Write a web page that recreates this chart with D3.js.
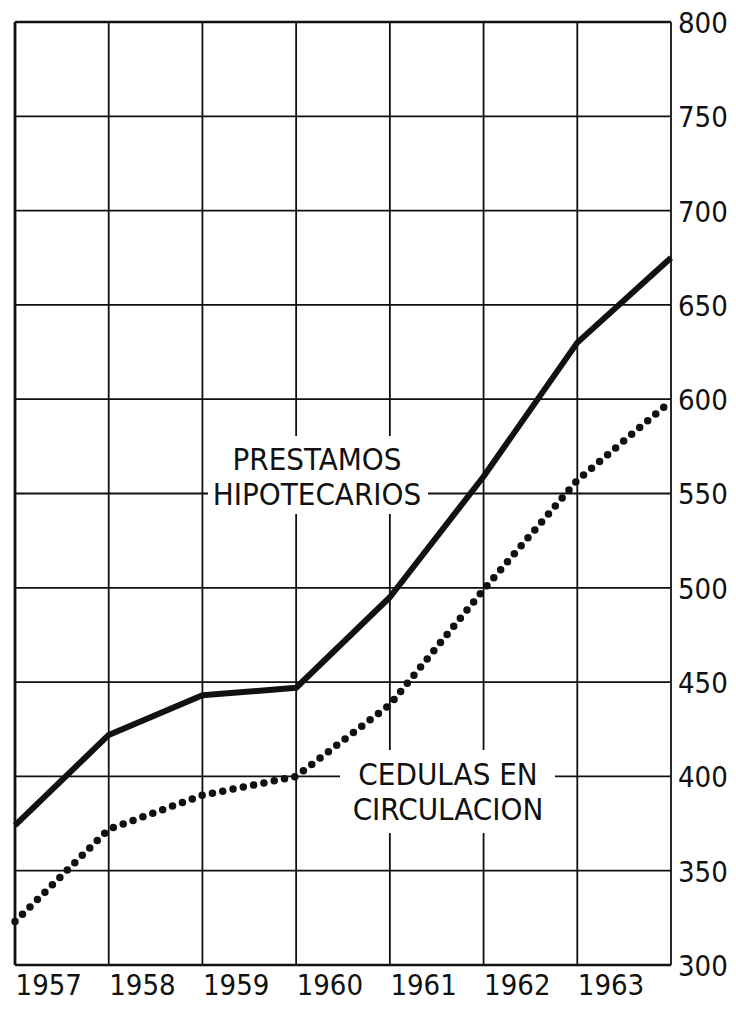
<!DOCTYPE html>
<html>
<head>
<meta charset="utf-8">
<script src="https://cdn.jsdelivr.net/npm/d3@7"></script>
<style>
  body { margin: 0; background: #fff; }
  svg text { font-family: "DejaVu Sans Condensed", "DejaVu Sans", sans-serif; font-stretch: condensed; fill: #111; }
</style>
</head>
<body>
<script>
// datos (fin de cada año, 1956..1963)
var years = ['1957', '1958', '1959', '1960', '1961', '1962', '1963'];
var prestamos = [374, 422, 443, 447, 495, 559, 630, 675];
var cedulas = [323, 372, 390, 400, 438, 499, 557, 599];
var yTicks = [300, 350, 400, 450, 500, 550, 600, 650, 700, 750, 800];

var width = 736, height = 1016;
var margin = { top: 22, right: 65, bottom: 51, left: 15 };

var svg = d3.select('body').append('svg')
  .attr('width', width)
  .attr('height', height);

var x = d3.scaleLinear().domain([0, years.length]).range([margin.left, width - margin.right]);
var y = d3.scaleLinear().domain([300, 800]).range([height - margin.bottom, margin.top]);

// rejilla horizontal
svg.selectAll('line.h')
  .data(yTicks)
  .enter()
  .append('line')
  .attr('class', 'h')
  .attr('x1', x(0)).attr('x2', x(years.length))
  .attr('y1', function (d) { return y(d); })
  .attr('y2', function (d) { return y(d); })
  .style('stroke', '#111')
  .style('stroke-width', function (d) { return (d === 300 || d === 800) ? 2.4 : 1.8; });

// rejilla vertical
svg.selectAll('line.v')
  .data(d3.range(years.length + 1))
  .enter()
  .append('line')
  .attr('class', 'v')
  .attr('x1', function (d) { return x(d); })
  .attr('x2', function (d) { return x(d); })
  .attr('y1', y(800)).attr('y2', y(300))
  .style('stroke', '#111')
  .style('stroke-width', function (d) { return (d === 0) ? 2.8 : 1.8; });

// eje derecho
var axis = svg.append('g')
  .attr('transform', 'translate(' + (x(years.length) + 7) + ',0)')
  .call(d3.axisRight(y).tickValues(yTicks).tickSize(0).tickPadding(0));
axis.select('.domain').remove();
axis.selectAll('text')
  .style('font-size', '29px')
  .attr('dy', '0.36em');

// años
svg.selectAll('text.year')
  .data(years)
  .enter()
  .append('text')
  .attr('class', 'year')
  .attr('x', function (d, i) { return x(i + 0.36); })
  .attr('y', 995)
  .attr('text-anchor', 'middle')
  .style('font-size', '29px')
  .text(function (d) { return d; });

var line = d3.line()
  .x(function (d, i) { return x(i); })
  .y(function (d) { return y(d); });

// cedulas en circulacion (punteada)
svg.append('path')
  .datum(cedulas)
  .attr('d', line)
  .style('fill', 'none')
  .style('stroke', '#111')
  .style('stroke-width', 7.5)
  .style('stroke-linecap', 'round')
  .style('stroke-dasharray', '0 10.5');

// prestamos hipotecarios (continua)
svg.append('path')
  .datum(prestamos)
  .attr('d', line)
  .style('fill', 'none')
  .style('stroke', '#111')
  .style('stroke-width', 6)
  .style('stroke-linejoin', 'round');

// etiquetas con fondo blanco
function label(lines, cx, top, boxX, boxY, boxW, boxH) {
  svg.append('rect')
    .attr('x', boxX).attr('y', boxY)
    .attr('width', boxW).attr('height', boxH)
    .style('fill', '#fff');
  svg.selectAll(null)
    .data(lines)
    .enter()
    .append('text')
    .attr('x', cx)
    .attr('y', function (d, i) { return top + i * 35; })
    .attr('text-anchor', 'middle')
    .style('font-size', '31px')
    .text(function (d) { return d; });
}
label(['PRESTAMOS', 'HIPOTECARIOS'], 317, 470, 208, 436, 220, 78);
label(['CEDULAS EN', 'CIRCULACION'], 448, 785, 340, 750, 215, 83);
</script>
</body>
</html>
